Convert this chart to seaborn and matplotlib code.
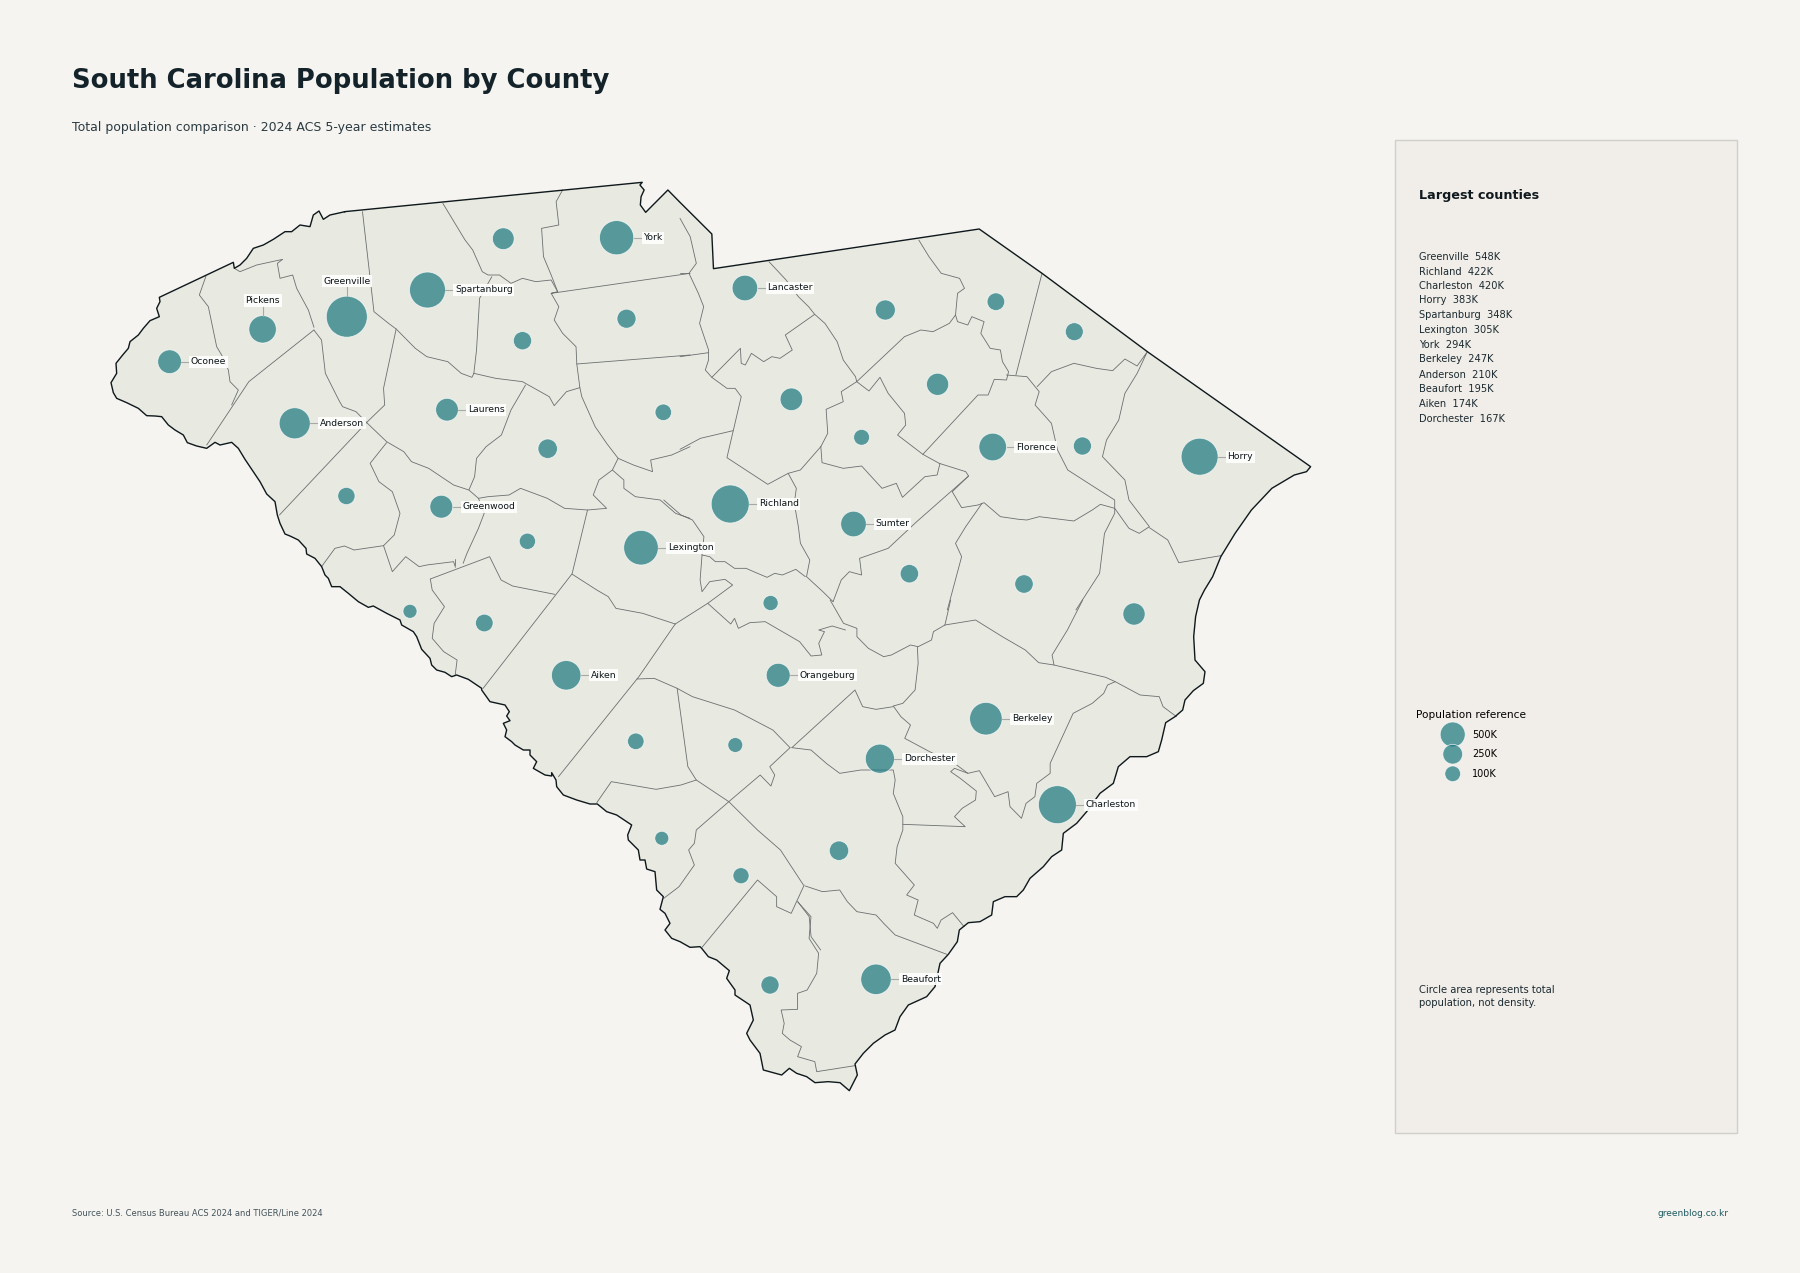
import numpy as np
import pandas as pd
import seaborn as sns
import matplotlib.pyplot as plt
from matplotlib.patches import Rectangle

sns.set_theme(style="white")
plt.rcParams["font.family"] = ["DejaVu Sans"]

PAPER = "#f5f4f0"
LAND = "#e8e9e1"
TEAL = "#1f7a80"
INK = "#14232a"

# County bubbles, map position in image pixels, population in thousands
county_names = [
    "Oconee", "Pickens", "Greenville", "Spartanburg", "Cherokee", "York", "Union", "Chester",
    "Fairfield", "Laurens", "Anderson", "Newberry", "Abbeville", "Greenwood", "Saluda", "Lexington",
    "Lancaster", "Chesterfield", "Marlboro", "Dillon", "Darlington", "Kershaw", "Lee", "Florence",
    "Marion", "Horry", "Richland", "Sumter", "Clarendon", "Williamsburg", "Calhoun", "Georgetown",
    "McCormick", "Edgefield", "Aiken", "Orangeburg", "Barnwell", "Bamberg", "Allendale", "Hampton",
    "Colleton", "Berkeley", "Dorchester", "Charleston", "Beaufort", "Jasper",
]
county_x = [
    169.6, 262.6, 346.8, 427.5, 503.3, 616.6, 522.5, 626.5,
    663.3, 447.0, 294.7, 547.7, 346.4, 441.3, 527.4, 641.0,
    744.9, 885.3, 995.9, 1074.3, 937.6, 791.4, 861.6, 992.7,
    1082.4, 1199.6, 730.2, 853.5, 909.4, 1024.0, 770.6, 1134.0,
    410.0, 484.3, 566.2, 778.2, 635.8, 735.3, 661.8, 741.0,
    839.0, 985.9, 879.9, 1057.4, 876.0, 770.0,
]
county_y = [
    361.7, 329.3, 316.7, 290.0, 238.7, 237.7, 340.7, 318.7,
    412.3, 409.7, 423.3, 448.7, 496.0, 506.7, 541.3, 547.7,
    288.0, 310.0, 301.7, 331.7, 384.3, 399.3, 437.3, 447.0,
    446.0, 456.7, 504.0, 524.0, 573.7, 584.0, 603.0, 614.0,
    611.3, 623.0, 675.3, 675.3, 741.3, 745.0, 838.3, 875.7,
    850.7, 718.7, 758.7, 804.7, 979.3, 985.0,
]
county_pop = [
    80, 135, 548, 348, 58, 294, 30, 35,
    20, 68, 210, 38, 24, 70, 19, 305,
    105, 43, 26, 28, 62, 67, 17, 138,
    29, 383, 422, 105, 31, 31, 14, 63,
    10, 26, 174, 83, 20, 13, 9, 18,
    38, 247, 167, 420, 195, 29,
]

labels_right = [
    "York", "Spartanburg", "Lancaster", "Oconee", "Anderson", "Laurens", "Greenwood", "Florence", "Horry",
    "Richland", "Sumter", "Lexington", "Aiken", "Orangeburg", "Berkeley", "Dorchester", "Charleston", "Beaufort",
]
labels_above = ["Greenville", "Pickens"]

top_names = ["Greenville", "Richland", "Charleston", "Horry", "Spartanburg", "Lexington",
             "York", "Berkeley", "Anderson", "Beaufort", "Aiken", "Dorchester"]
top_values = [548, 422, 420, 383, 348, 305, 294, 247, 210, 195, 174, 167]
top_y = [257, 271.7, 286.3, 300, 315, 329.7, 345, 359, 374.7, 389.3, 404, 419]

legend_pop = [500, 250, 100]
legend_labels = ["500K", "250K", "100K"]
legend_y = [734.5, 754.2, 773.8]

A = (90, 160, 2.613, 3)
B = (680, 160, 2.45, 3)
C = (260, 500, 2.613, 3)
D = (700, 600, 2.613, 3)
E = (100, 200, 3, 3)
F = (260, 470, 3, 3)
G = (480, 680, 3, 3)
H = (880, 660, 3, 3)
I = (700, 900, 3, 3)

outline = [
    (A, [(665,155),(1443,67),(1437,75),(1448,90),(1440,110),(1438,135),(1452,157),(1510,90)]),
    (B, [(0,127),(78,222),(82,326),(733,207),(887,340),(1145,575),(1545,920),(1535,935),(1505,945),(1450,985),
         (1400,1050),(1360,1120),(1325,1190),(1305,1250),(1285,1290)]),
    (D, [(1305,0),(1295,50),(1290,110)]),
    (H, [(945,0),(975,35),(970,70),(940,92),(915,120),(908,150),(885,170),(857,188),(845,240),(835,275),(800,290),
         (750,290),(715,320),(700,370),(660,400),(620,455),(590,490),(550,520),(545,570),(515,590),(490,620),(450,655),
         (430,690),(410,710),(375,710),(340,725),(335,765),(300,785),(265,788),(238,810)]),
    (I, [(772,125),(745,163),(720,190),(705,260),(680,290),(625,315),(600,350),(585,390),(555,405),(520,430),(490,460),
         (465,492),(472,525),(448,572),(420,548),(385,545),(345,548),(320,530),(290,520),(268,505),(245,525),(190,510),
         (180,460),(150,420),(140,400),(160,360),(150,315),(105,285),(105,270),(80,235),(88,212),(50,180),(25,170),(5,145)]),
    (G, [(660,800),(630,802),(600,785),(575,775),(555,750),(570,730),(555,700),(540,688),(550,650),(530,630),(525,575),
         (500,567),(495,540),(480,540),(475,510),(445,480),(443,465),(455,435),(410,405),(380,395),(352,372),(330,372),
         (290,360),(250,345),(230,320),(228,300),(215,278),(215,288),(195,285),(160,265),(170,245),(150,225),(150,210),
         (130,210),(105,195),(95,185),(75,170),(80,150),(70,130),(90,122),(80,108),(88,95),(75,75),(30,65),(5,30)]),
    (F, [(665,655),(625,628),(590,615),(575,620),(555,607),(530,600),(515,585),(510,565),(485,538),(470,500),(460,485),
         (425,465),(420,450),(380,430),(340,408),(325,412),(295,395),(265,370),(240,350),(215,350),(205,325),(195,315),
         (185,290),(165,265),(140,252),(138,235),(115,210),(90,198),(75,192),(60,160),(52,135),(45,95),(20,72),(0,35)]),
    (E, [(435,778),(415,745),(395,727),(360,735),(345,727),(320,745),(290,738),(262,728),(250,705),(225,690),(205,675),
         (185,650),(165,648),(140,647),(115,625),(80,608),(50,595),(40,578),(33,548),(50,520),(48,490),(68,465),(85,445),
         (90,425),(115,405),(130,385),(150,362),(178,350),(170,325),(180,305),(178,292),(400,187),(403,205),(420,195),
         (440,175),(460,145),(490,135),(520,118),(555,95),(575,95),(600,75),(630,80),(640,45),(657,33),(670,58),(690,45),
         (735,35)]),
]

borders_e = [
    [(318,228),(298,285),(325,320),(350,440),(365,465),(385,510),(390,545),(415,570),(395,615)],
    [(403,205),(420,215),(470,195),(548,178),(532,190),(540,235),(578,225),(590,265),(625,330),(642,382)],
]
borders_a = [
    [(585,510),(605,540),(615,640),(650,720),(660,740),(695,755),(725,790),(775,845),(820,875),(840,905),(885,925),
     (950,975),(990,990),(1015,1015)],
    [(585,510),(415,665),(305,855)],
    [(712,155),(742,455),(780,490),(800,507),(850,565),(880,590),(935,605),(970,640),(998,652),(1003,640)],
    [(800,507),(767,685),(770,735),(725,785),(495,1065)],
    [(922,130),(980,240),(1000,270),(1025,335),(1040,345),(1070,345),(1100,370),(1130,355),(1165,365),(1205,360),(1222,395)],
    [(1050,350),(1018,415),(1010,570),(1003,640)],
    [(1235,90),(1218,125),(1225,195),(1180,205),(1185,290),(1205,345),(1222,395),(1205,400),(1568,340)],
    [(1205,400),(1225,440),(1213,480),(1235,520),(1270,560),(1272,612),(1280,683),(1285,710),(1320,800),(1350,850),
     (1380,895),(1365,930),(1330,960),(1315,1005),(1350,1045),(1300,1050),(1240,1045),(1195,1015),(1125,985),(1095,1005),
     (1040,1010),(1015,1015),(1030,1060),(1015,1105),(985,1180),(975,1210)],
    [(1272,612),(1568,585)],
    [(1003,640),(1060,655),(1130,665),(1200,710),(1213,737),(1245,695),(1280,683)],
    [(1138,675),(1100,750),(1075,825),(1035,860),(1010,895),(1005,950),(990,990)],
    [(775,848),(732,910),(755,965),(790,995),(810,1060),(795,1125),(767,1157),(690,1170),(665,1158),(640,1165),(605,1220)],
    [(767,1157),(790,1235),(825,1190),(860,1220),(880,1215),(950,1205),(955,1222)],
    [(1300,1050),(1260,1240)],
    [(1380,895),(1420,915),(1470,935),(1465,900),(1520,885),(1568,860)],
    [(1365,930),(1395,960),(1395,985),(1425,1010),(1490,1020),(1530,1060),(1568,1075)],
]
borders_b = [
    [(0,175),(25,230),(40,310),(22,340),(45,400),(58,440),(48,490),(70,570),(70,600),(62,630),(78,652),(115,685),(135,685),
     (150,710),(115,893),(215,973),(265,940),(295,930),(345,860)],
    [(0,340),(22,340)],
    [(0,590),(70,578)],
    [(78,652),(148,565),(150,610),(160,615),(175,580),(205,605),(225,590),(245,595),(275,570),(258,525),(330,463)],
    [(218,305),(260,360),(290,410),(315,440),(330,463),(355,490),(385,545),(400,600),(430,650),(433,665),(463,693),(490,652),
     (510,700),(550,760),(553,795),(533,825),(595,883),(635,910),(700,935),(707,948),(580,1085),(510,1165),(440,1195),
     (445,1245),(415,1235),(395,1260),(375,1325)],
    [(433,665),(550,530),(590,510),(620,515),(660,490),(675,465),(680,485),(705,495),(715,470),(745,485),(737,520),(760,565),
     (785,570),(790,605),(805,635),(800,660),(770,658),(755,705),(730,705),(595,883)],
    [(675,465),(680,400),(697,385),(685,355),(640,340),(610,290),(585,240)],
    [(887,340),(823,645)],
    [(800,645),(850,650),(880,695),(870,735),(910,790),(925,870),(950,930),(1020,985),(1065,1020),(1065,1045)],
    [(875,680),(910,635),(965,610),(1020,625),(1060,632),(1090,597),(1120,618),(1145,575),(1120,640),(1090,700),(1075,780),
     (1045,840),(1035,890),(1090,960),(1100,1020),(1150,1100),(1125,1120),(1100,1105),(1065,1045)],
    [(1150,1103),(1195,1140),(1222,1208),(1325,1187)],
    [(345,860),(348,908),(400,925),(445,918),(495,985),(530,970),(545,1012),(600,950),(630,945),(637,910)],
    [(433,665),(395,695),(400,725),(358,748),(362,820),(345,860)],
    [(0,868),(50,835),(130,812)],
    [(265,940),(285,985),(280,1030),(290,1100),(295,1150),(318,1200),(310,1250),(350,1295),(375,1325)],
    [(707,948),(667,995),(690,1043),(730,1035),(745,1028),(785,1070),(830,1078),(850,1080),(880,1070),(965,1083),(1010,1050),
     (1030,1033),(1065,1045),(1065,1060),(1040,1120),(1028,1240),(970,1350)],
    [(740,1030),(700,1100),(675,1150),(690,1190),(655,1350)],
]
borders_c = [
    [(510,178),(510,195)],
    [(445,237),(450,270),(482,320),(455,370),(450,415),(480,455),(515,480),(510,525)],
    [(815,222),(583,565)],
    [(445,237),(600,170),(630,240),(660,258),(770,283)],
    [(815,222),(880,270),(910,290),(930,325),(1000,340),(1085,372)],
    [(1085,372),(990,530),(780,830)],
    [(1085,372),(1170,310),(1235,255),(1215,238),(1175,245),(1155,275),(1150,240),(1155,165),(1160,110),(1130,60),(1100,45),(1055,0)],
    [(1155,165),(1175,170),(1190,185),(1215,185),(1240,205),(1270,205),(1300,220),(1325,232),(1345,220),(1365,225),(1400,208),(1425,230)],
    [(1170,310),(1230,372),(1240,355),(1250,385),(1280,368),(1320,365),(1410,425),(1440,468),(1468,465),(1460,430),(1475,395),
     (1460,390),(1495,378),(1530,390)],
    [(985,537),(1030,535),(1090,565),(1130,590),(1240,630),(1340,690),(1385,743)],
    [(1090,565),(1118,800),(1140,840),(1225,905),(1300,990),(1360,1050),(1420,1155)],
    [(880,908),(918,845),(1035,868),(1100,855),(1140,840)],
    [(1385,743),(1332,800),(1345,825),(1335,858),(1307,825),(1225,905),(1140,990),(1135,1030),(1120,1050),(1135,1095),(1095,1160),(1055,1195)],
    [(1155,1342),(1300,1140),(1350,1190),(1350,1220),(1388,1240),(1422,1155)],
    [(1405,1205),(1435,1250),(1440,1310),(1465,1350)],
]
borders_d = [
    [(640,75),(655,0)],
    [(640,75),(610,95),(605,120),(570,140),(550,135),(500,165),(480,170),(440,145),(410,110),(410,85),(375,70),(340,0)],
    [(640,75),(720,60),(790,110),(850,150),(885,188),(925,195),(980,210),(1060,232),(1085,245),(1150,285),(1200,290),(1210,320),(1245,350)],
    [(925,195),(920,165),(960,90),(1000,0)],
    [(568,140),(570,190),(562,270),(530,310),(505,318),(525,350),(550,375),(535,415),(600,455),(665,490),(700,520),(730,512),
     (770,590),(805,575),(810,620),(840,655),(852,610),(875,590),(880,550),(915,520),(915,490),(975,340),(1025,310),(1055,280),
     (1065,255),(1085,245)],
    [(505,320),(460,328),(425,320),(405,270),(240,443)],
    [(240,443),(290,450),(330,490),(365,520),(420,510),(465,510),(505,510),(510,540),(505,580),
     (530,650),(530,690),(515,740),(510,790),(560,855),(540,885),(570,900),(560,945),(610,970),(620,985),(630,960),(660,938),(690,980)],
    [(530,673),(693,680),(665,650),(685,625),(720,600),(722,573),(680,535),(655,515),(665,505),(700,520)],
    [(275,858),(320,875),(365,870),(385,905),(410,935),(460,945),(480,970),(510,1005),(645,1063)],
    [(255,905),(290,950),(285,1015),(310,1060),(305,1120),(280,1170),(255,1180),(255,1228),(212,1230),(220,1270),(215,1300),(235,1320),
     (265,1340),(255,1370),(300,1385),(305,1415),(405,1397)],
]


def from_crop(frame, pts):
    left, top, sx, sy = frame
    arr = np.array(pts, dtype=float)
    return left + arr[:, 0] / sx, top + arr[:, 1] / sy


PT = 0.72  # one image pixel in points at dpi 100
SIZE_LO, SIZE_HI = (14 * PT) ** 2, (41 * PT) ** 2


def bubble_px(pop):
    lo, hi = 10 ** 0.6, 548 ** 0.6
    return np.sqrt(SIZE_LO + (SIZE_HI - SIZE_LO) * (pop ** 0.6 - lo) / (hi - lo)) / PT


fig = plt.figure(figsize=(18, 12.73), dpi=100, facecolor=PAPER)
ax = fig.add_axes([0, 0, 1, 1])
ax.set_facecolor(PAPER)

# map
ox, oy = [], []
for frame, pts in outline:
    x, y = from_crop(frame, pts)
    ox.extend(x)
    oy.extend(y)
ax.fill(ox, oy, color=LAND, zorder=1, lw=0)
for frame, group in [(E, borders_e), (A, borders_a), (B, borders_b), (C, borders_c), (D, borders_d)]:
    for pts in group:
        x, y = from_crop(frame, pts)
        ax.plot(x, y, color="#6a6f6f", lw=0.6, zorder=2, solid_joinstyle="round")
ax.plot(ox, oy, color="#0e181c", lw=1.0, zorder=3, solid_joinstyle="round")

# bubbles
counties = pd.DataFrame({"name": county_names, "x": county_x, "y": county_y, "pop": county_pop})
counties["scaled"] = counties["pop"] ** 0.6
sns.scatterplot(data=counties, x="x", y="y", size="scaled", sizes=(SIZE_LO, SIZE_HI),
                size_norm=(10 ** 0.6, 548 ** 0.6), color=TEAL, alpha=0.72, edgecolor="white",
                linewidth=0.6, legend=False, ax=ax, zorder=4)

label_box = dict(facecolor="white", edgecolor="none", alpha=0.9, pad=1.2)
by_name = counties.set_index("name")
for name in labels_right:
    row = by_name.loc[name]
    r = bubble_px(row["pop"]) / 2
    ax.plot([row.x + r, row.x + r + 8], [row.y, row.y], color="#a6a9a6", lw=0.8, zorder=5)
    ax.text(row.x + r + 9.5, row.y, name, fontsize=6.7, color="#0d1518", ha="left", va="center",
            bbox=label_box, zorder=6)
for name in labels_above:
    row = by_name.loc[name]
    r = bubble_px(row["pop"]) / 2
    ax.plot([row.x, row.x], [row.y - r, row.y - r - 10], color="#a6a9a6", lw=0.8, zorder=5)
    ax.text(row.x, row.y - r - 15, name, fontsize=6.7, color="#0d1518", ha="center", va="center",
            bbox=label_box, zorder=6)

# headings
ax.text(72, 81, "South Carolina Population by County", fontsize=18.6, fontweight="bold", color=INK,
        ha="left", va="center")
ax.text(72, 127, "Total population comparison · 2024 ACS 5-year estimates", fontsize=9.0, color="#2b3b42",
        ha="left", va="center")

# side panel
ax.add_patch(Rectangle((1395, 140), 341.7, 992.7, facecolor="#f1eee9", edgecolor="#d0d0c8", lw=1, zorder=1))
ax.text(1419, 195, "Largest counties", fontsize=9.15, fontweight="bold", color="#10191d", ha="left", va="center")
for name, val, y in zip(top_names, top_values, top_y):
    ax.text(1419, y, f"{name}  {val}K", fontsize=7.15, color="#1b2a30", ha="left", va="center")

ax.text(1416, 714.5, "Population reference", fontsize=7.55, color="#000000", ha="left", va="center")
legend_df = pd.DataFrame({"x": 1452.7, "y": legend_y, "pop": legend_pop})
sns.scatterplot(data=legend_df, x="x", y="y", size="pop", sizes=((15.7 * PT) ** 2, (25 * PT) ** 2),
                size_norm=(100, 500), color=TEAL, alpha=0.72, edgecolor="white", linewidth=0.6,
                legend=False, ax=ax, zorder=4)
for lab, y in zip(legend_labels, legend_y):
    ax.text(1472.3, y, lab, fontsize=7.0, color="#000000", ha="left", va="center")

ax.text(1419, 990, "Circle area represents total", fontsize=7.2, color="#1b2a30", ha="left", va="center")
ax.text(1419, 1003.3, "population, not density.", fontsize=7.2, color="#1b2a30", ha="left", va="center")

# footer
ax.text(72, 1213, "Source: U.S. Census Bureau ACS 2024 and TIGER/Line 2024", fontsize=6.07, color="#43535a",
        ha="left", va="center")
ax.text(1728, 1213, "greenblog.co.kr", fontsize=6.5, color="#1e5a60", ha="right", va="center")

ax.set_xlim(0, 1800)
ax.set_ylim(1273, 0)
ax.axis("off")
fig.savefig("out.png", dpi=100, facecolor=PAPER)
